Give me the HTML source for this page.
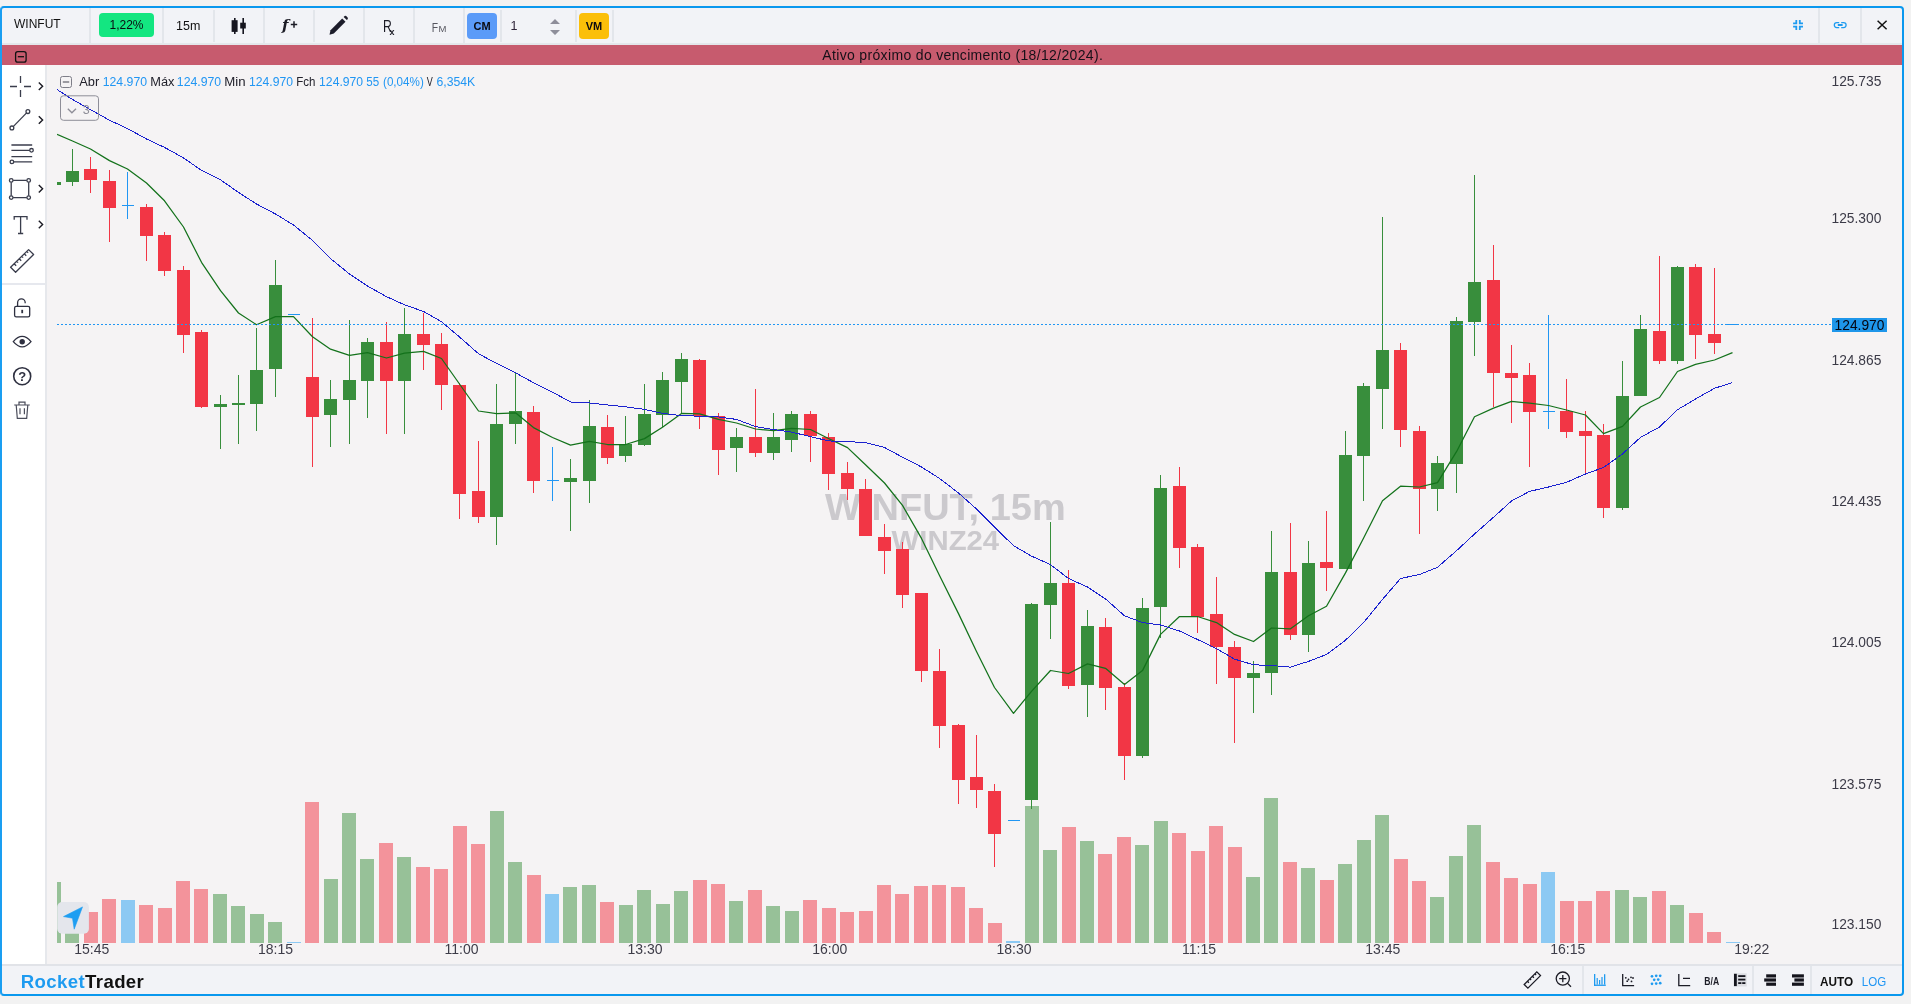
<!DOCTYPE html>
<html lang="pt-BR"><head><meta charset="utf-8"><title>WINFUT 15m - RocketTrader</title>
<style>
*{box-sizing:border-box}
html,body{margin:0;padding:0;width:1911px;height:1004px;overflow:hidden;background:#f2f2f2;font-family:"Liberation Sans",Arial,sans-serif;color:#15151d}
.a{position:absolute}
#frame{left:0;top:6px;width:1904px;height:990px;border:2px solid #0a98ee;border-left-color:#1a9ef1;border-radius:4px;z-index:50;pointer-events:none}
#tb{left:2px;top:8px;width:1900px;height:37px;background:#f2f3f7;border-bottom:2px solid #e4e7eb}
.sep{position:absolute;top:10px;width:2px;height:32px;background:#e3e6eb}
.fsep{position:absolute;top:966px;width:2px;height:28px;background:#e3e6eb}
#banner{left:2px;top:45px;width:1900px;height:20px;background:#c75b6e}
#lt{left:2px;top:65px;width:43px;height:899px;background:#fff}
#ltb{left:45px;top:65px;width:2px;height:899px;background:#e6e8ec}
#chart{left:47px;top:65px;width:1855px;height:899px;background:#f5f3f4}
#foot{left:2px;top:964px;width:1900px;height:30px;background:#f2f3f7;border-top:2px solid #e1e3e8}
.t{position:absolute;white-space:nowrap;line-height:1}
.badge{position:absolute;border-radius:4px;text-align:center;color:#0b0b10}
svg{position:absolute;overflow:visible}
</style></head><body style="will-change:transform">
<div class="a" id="tb"></div>
<div class="a" id="banner"></div>
<div class="a" id="lt"></div>
<div class="a" id="ltb"></div>
<div class="a" id="chart"></div>
<div class="a" id="foot"></div>

<!-- toolbar separators -->
<div class="sep" style="left:89px;top:8px;height:35px"></div>
<div class="sep" style="left:162px;top:8px;height:35px"></div>
<div class="sep" style="left:213px"></div>
<div class="sep" style="left:263px;top:8px;height:35px"></div>
<div class="sep" style="left:313px"></div>
<div class="sep" style="left:363px;top:8px;height:35px"></div>
<div class="sep" style="left:413px;top:8px;height:35px"></div>
<div class="sep" style="left:463px;top:8px;height:35px"></div>
<div class="sep" style="left:500px"></div>
<div class="sep" style="left:575px"></div>
<div class="sep" style="left:612px"></div>
<div class="sep" style="left:1818px;top:8px;height:35px"></div>
<div class="sep" style="left:1860px;top:8px;height:35px"></div>

<!-- toolbar content -->
<div class="t" style="left:14px;top:18px;font-size:12px;color:#111">WINFUT</div>
<div class="badge" style="left:99px;top:13px;width:55px;height:24px;background:#13e681;font-size:12px;line-height:24px">1,22%</div>
<div class="t" style="left:176px;top:20px;font-size:12.5px;color:#111">15m</div>
<svg style="left:0;top:0" width="1911" height="45" viewBox="0 0 1911 45">
  <!-- candles icon -->
  <rect x="234" y="18" width="1.6" height="16" fill="#15151f"/>
  <rect x="231.6" y="20.2" width="6" height="11.7" fill="#15151f"/>
  <rect x="242.4" y="18" width="1.6" height="16" fill="#15151f"/>
  <rect x="240.2" y="22.7" width="5.6" height="5.8" fill="#15151f"/>
  <!-- f+ -->
  <text x="282" y="30.4" font-family="DejaVu Serif" font-style="italic" font-weight="bold" font-size="15" fill="#1c1c26">f</text>
  <path d="M294 21.2v6.6 M290.8 24.5h6.4" stroke="#1c1c26" stroke-width="1.5"/>
  <!-- pencil -->
  <g transform="translate(-1 1)"><path d="M330.5 33.8 L331.5 29.2 L343.2 17.5 L346.5 20.8 L334.8 32.5 Z" fill="#1c1c2a"/>
  <path d="M344.6 16.1 L345.6 15.1 Q346.4 14.4 347.2 15.1 L348.6 16.6 Q349.3 17.4 348.6 18.2 L347.8 19.1 Z" fill="#1c1c2a"/></g>
  <!-- Rx -->
  <text x="383" y="32.3" font-size="17" fill="#1c1c26" transform="translate(383 0) scale(0.72 1) translate(-383 0)">R</text>
  <text x="389.5" y="35" font-size="9" font-weight="bold" fill="#1c1c26">x</text>
  <!-- Fm -->
  <text x="431.8" y="32" font-size="13.2" fill="#56565f" transform="translate(431.8 0) scale(0.78 1) translate(-431.8 0)">F</text>
  <text x="438.6" y="32" font-size="9.5" fill="#56565f">M</text>
  <!-- spinner -->
  <path d="M550 23.9 L555 18.9 L560 23.9 Z M550 29.9 L555 35 L560 29.9 Z" fill="#8e8e9a"/>
  <!-- compress icon -->
  <path d="M1796.3 20.1v3.3h-3.2 M1799.8 20.1v3.3h3.2 M1796.3 29.9v-3.3h-3.2 M1799.8 29.9v-3.3h3.2" stroke="#1e9bf0" stroke-width="1.8" fill="none"/>
  <!-- link icon -->
  <path d="M1839.2 22.5h-2.4a2.5 2.5 0 0 0 0 5h2.4 M1841.2 22.5h2.4a2.5 2.5 0 0 1 0 5h-2.4" stroke="#1e9bf0" stroke-width="1.25" fill="none"/><path d="M1837.8 25h4.8" stroke="#1e9bf0" stroke-width="2"/>
  <!-- close -->
  <path d="M1877.6 20.8 L1886.6 29.2 M1886.6 20.8 L1877.6 29.2" stroke="#111" stroke-width="1.5"/>
</svg>
<div class="badge" style="left:467px;top:13px;width:30px;height:26px;background:#5b9bf8;font-size:11px;font-weight:bold;line-height:26px">CM</div>
<div class="t" style="left:510.5px;top:19.5px;font-size:12.5px;color:#2e2438">1</div>
<div class="badge" style="left:579px;top:13px;width:30px;height:26px;background:#fbbf09;font-size:11px;font-weight:bold;line-height:26px">VM</div>

<!-- banner -->
<svg style="left:0;top:0" width="30" height="70">
  <rect x="15.6" y="51.6" width="10.5" height="10.6" rx="2.2" fill="none" stroke="#111" stroke-width="1.3"/>
  <path d="M17.8 56.7h6.2" stroke="#111" stroke-width="1.3"/>
</svg>
<svg style="left:0;top:0" width="1911" height="70"><text x="822.3" y="60.1" font-size="14" letter-spacing="0.34" fill="#161018">Ativo próximo do vencimento (18/12/2024).</text></svg>

<!-- left toolbar icons -->
<svg style="left:0;top:60px" width="47" height="370" viewBox="0 60 47 370">
  <g stroke="#3a3d4c" stroke-width="1.3" fill="none">
    <path d="M20.5 76v7 M20.5 90v7 M10 86.5h7 M24 86.5h7"/>
    <path d="M13.2 126.6 L26.6 112.9"/>
    <circle cx="11.9" cy="127.9" r="1.9"/><circle cx="27.9" cy="111.6" r="1.9"/>
    <path d="M11.4 145h20.8 M11.4 150.3h18.3 M11.4 156.6h20.8 M13.8 161.9h18.4"/>
    <circle cx="31.5" cy="150.3" r="1.8"/><circle cx="11.9" cy="161.9" r="1.8"/>
    <path d="M11.2 182.3v13.4 M28.7 182.3v13.4 M13.1 180.4h13.7 M13.1 197.6h13.7"/>
    <circle cx="11.2" cy="180.4" r="1.8"/><circle cx="28.7" cy="180.4" r="1.8"/><circle cx="11.2" cy="197.6" r="1.8"/><circle cx="28.7" cy="197.6" r="1.8"/>
    <path d="M14.2 219.8v-3.2h12.8v3.2 M20.6 216.6v16.9 M18 233.5h5.2"/>
    <path d="M10.6 267.2 L28.6 249.6 L33.6 254.5 L15.6 272.2 Z M14.20 263.68l1.96 2.00 M16.72 261.22l1.33 1.36 M19.24 258.75l1.96 2.00 M21.76 256.29l1.33 1.36 M24.28 253.82l1.96 2.00 M26.80 251.36l1.33 1.36" stroke-linejoin="round"/>
  </g>
  <g stroke="#1b1b24" stroke-width="1.4" fill="none">
    <path d="M38.8 82.5 L42.6 86.2 L38.8 89.9"/>
    <path d="M38.8 116.3 L42.6 120 L38.8 123.7"/>
    <path d="M38.8 185 L42.6 188.7 L38.8 192.4"/>
    <path d="M38.8 220.8 L42.6 224.5 L38.8 228.2"/>
  </g>
  <rect x="2" y="283" width="43" height="2" fill="#e6e8ee"/>
  <g stroke="#2e3040" stroke-width="1.3" fill="none">
    <rect x="14.6" y="306.3" width="15.1" height="10.6" rx="1.6"/>
    <path d="M17.6 306.3v-3.6a3.8 3.8 0 0 1 7.6 0v0.6"/>
    <path d="M13.3 341.7 Q22.2 331.2 31 341.7 Q22.2 352.2 13.3 341.7 Z"/>
    <circle cx="22.2" cy="376.2" r="8.5" stroke-width="1.6"/>
    <path d="M14.2 405h15.6 M19 404.8v-2.6h6v2.6 M16.2 405l1.1 13.4h9.4l1.1-13.4 M20 408.3v6 M24.4 408.3v6" stroke="#4b4d5b" stroke-width="1.2"/>
  </g>
  <rect x="21.3" y="309.8" width="1.8" height="3.4" fill="#2e3040"/>
  <circle cx="22.2" cy="341.7" r="2.7" fill="#2e3040"/>
  <text x="22.2" y="381" font-size="13" font-weight="bold" fill="#2e3040" text-anchor="middle">?</text>
</svg>

<!-- chart svg -->
<svg style="left:0;top:0" width="1911" height="1004" viewBox="0 0 1911 1004" font-family="Liberation Sans, Arial, sans-serif">
  <defs><clipPath id="cp"><rect x="57" y="65" width="1845" height="878"/></clipPath></defs>
  <g fill="#cbc9cd" font-weight="bold">
    <text x="825.1" y="520.3" font-size="36.6" textLength="240.6" lengthAdjust="spacingAndGlyphs">WINFUT, 15m</text>
    <text x="891.6" y="549.7" font-size="27.2" textLength="107.6" lengthAdjust="spacingAndGlyphs">WINZ24</text>
  </g>
  <g clip-path="url(#cp)">
    <g shape-rendering="crispEdges">
<rect x="47" y="881.9" width="14" height="61.1" fill="#97c198"/>
<rect x="65" y="905" width="14" height="38" fill="#97c198"/>
<rect x="84" y="911.9" width="14" height="31.1" fill="#f3939b"/>
<rect x="102" y="898.9" width="14" height="44.1" fill="#f3939b"/>
<rect x="121" y="900" width="14" height="43" fill="#8cc9f3"/>
<rect x="139" y="904.8" width="14" height="38.2" fill="#f3939b"/>
<rect x="158" y="907.8" width="14" height="35.2" fill="#f3939b"/>
<rect x="176" y="880.9" width="14" height="62.1" fill="#f3939b"/>
<rect x="194" y="888.9" width="14" height="54.1" fill="#f3939b"/>
<rect x="213" y="894" width="14" height="49" fill="#97c198"/>
<rect x="231" y="906" width="14" height="37" fill="#97c198"/>
<rect x="250" y="913.9" width="14" height="29.1" fill="#97c198"/>
<rect x="268" y="921.7" width="14" height="21.3" fill="#97c198"/>
<rect x="287" y="941.5" width="14" height="1.5" fill="#8cc9f3"/>
<rect x="305" y="801.9" width="14" height="141.1" fill="#f3939b"/>
<rect x="324" y="878.9" width="14" height="64.1" fill="#97c198"/>
<rect x="342" y="812.9" width="14" height="130.1" fill="#97c198"/>
<rect x="360" y="858.9" width="14" height="84.1" fill="#97c198"/>
<rect x="379" y="843" width="14" height="100" fill="#f3939b"/>
<rect x="397" y="857" width="14" height="86" fill="#97c198"/>
<rect x="416" y="867" width="14" height="76" fill="#f3939b"/>
<rect x="434" y="868.9" width="14" height="74.1" fill="#f3939b"/>
<rect x="453" y="825.9" width="14" height="117.1" fill="#f3939b"/>
<rect x="471" y="844" width="14" height="99" fill="#f3939b"/>
<rect x="490" y="811" width="14" height="132" fill="#97c198"/>
<rect x="508" y="862" width="14" height="81" fill="#97c198"/>
<rect x="527" y="875" width="14" height="68" fill="#f3939b"/>
<rect x="545" y="894" width="14" height="49" fill="#8cc9f3"/>
<rect x="563" y="887" width="14" height="56" fill="#97c198"/>
<rect x="582" y="885.1" width="14" height="57.9" fill="#97c198"/>
<rect x="600" y="901.9" width="14" height="41.1" fill="#f3939b"/>
<rect x="619" y="905.1" width="14" height="37.9" fill="#97c198"/>
<rect x="637" y="889.9" width="14" height="53.1" fill="#97c198"/>
<rect x="656" y="903.9" width="14" height="39.1" fill="#97c198"/>
<rect x="674" y="891.1" width="14" height="51.9" fill="#97c198"/>
<rect x="693" y="880.1" width="14" height="62.9" fill="#f3939b"/>
<rect x="711" y="884" width="14" height="59" fill="#f3939b"/>
<rect x="729" y="901.1" width="14" height="41.9" fill="#97c198"/>
<rect x="748" y="889.9" width="14" height="53.1" fill="#f3939b"/>
<rect x="766" y="906" width="14" height="37" fill="#97c198"/>
<rect x="785" y="911" width="14" height="32" fill="#97c198"/>
<rect x="803" y="900" width="14" height="43" fill="#f3939b"/>
<rect x="822" y="908" width="14" height="35" fill="#f3939b"/>
<rect x="840" y="911.9" width="14" height="31.1" fill="#f3939b"/>
<rect x="859" y="911" width="14" height="32" fill="#f3939b"/>
<rect x="877" y="885.1" width="14" height="57.9" fill="#f3939b"/>
<rect x="895" y="894" width="14" height="49" fill="#f3939b"/>
<rect x="914" y="886" width="14" height="57" fill="#f3939b"/>
<rect x="932" y="885.1" width="14" height="57.9" fill="#f3939b"/>
<rect x="951" y="887" width="14" height="56" fill="#f3939b"/>
<rect x="969" y="908" width="14" height="35" fill="#f3939b"/>
<rect x="988" y="922.9" width="14" height="20.1" fill="#f3939b"/>
<rect x="1006" y="941.2" width="14" height="1.8" fill="#8cc9f3"/>
<rect x="1025" y="806.1" width="14" height="136.9" fill="#97c198"/>
<rect x="1043" y="850.1" width="14" height="92.9" fill="#97c198"/>
<rect x="1062" y="826.9" width="14" height="116.1" fill="#f3939b"/>
<rect x="1080" y="841" width="14" height="102" fill="#97c198"/>
<rect x="1098" y="854" width="14" height="89" fill="#f3939b"/>
<rect x="1117" y="836.9" width="14" height="106.1" fill="#f3939b"/>
<rect x="1135" y="845" width="14" height="98" fill="#97c198"/>
<rect x="1154" y="821" width="14" height="122" fill="#97c198"/>
<rect x="1172" y="833.2" width="14" height="109.8" fill="#f3939b"/>
<rect x="1191" y="851" width="14" height="92" fill="#f3939b"/>
<rect x="1209" y="825.9" width="14" height="117.1" fill="#f3939b"/>
<rect x="1228" y="847" width="14" height="96" fill="#f3939b"/>
<rect x="1246" y="877" width="14" height="66" fill="#97c198"/>
<rect x="1264" y="798" width="14" height="145" fill="#97c198"/>
<rect x="1283" y="862" width="14" height="81" fill="#f3939b"/>
<rect x="1301" y="868" width="14" height="75" fill="#97c198"/>
<rect x="1320" y="880.1" width="14" height="62.9" fill="#f3939b"/>
<rect x="1338" y="864" width="14" height="79" fill="#97c198"/>
<rect x="1357" y="840.1" width="14" height="102.9" fill="#97c198"/>
<rect x="1375" y="815" width="14" height="128" fill="#97c198"/>
<rect x="1394" y="859.1" width="14" height="83.9" fill="#f3939b"/>
<rect x="1412" y="881.1" width="14" height="61.9" fill="#f3939b"/>
<rect x="1430" y="897" width="14" height="46" fill="#97c198"/>
<rect x="1449" y="856" width="14" height="87" fill="#97c198"/>
<rect x="1467" y="825" width="14" height="118" fill="#97c198"/>
<rect x="1486" y="862" width="14" height="81" fill="#f3939b"/>
<rect x="1504" y="878" width="14" height="65" fill="#f3939b"/>
<rect x="1523" y="884" width="14" height="59" fill="#f3939b"/>
<rect x="1541" y="872.1" width="14" height="70.9" fill="#8cc9f3"/>
<rect x="1560" y="901.1" width="14" height="41.9" fill="#f3939b"/>
<rect x="1578" y="901.1" width="14" height="41.9" fill="#f3939b"/>
<rect x="1596" y="891.1" width="14" height="51.9" fill="#f3939b"/>
<rect x="1615" y="890" width="14" height="53" fill="#97c198"/>
<rect x="1633" y="897" width="14" height="46" fill="#97c198"/>
<rect x="1652" y="891.1" width="14" height="51.9" fill="#f3939b"/>
<rect x="1670" y="905" width="14" height="38" fill="#97c198"/>
<rect x="1689" y="912.9" width="14" height="30.1" fill="#f3939b"/>
<rect x="1707" y="931.9" width="14" height="11.1" fill="#f3939b"/>
<rect x="1726" y="941.5" width="14" height="1.5" fill="#8cc9f3"/>
<rect x="54" y="182.3" width="1" height="2.6" fill="#388e3c"/>
<rect x="72" y="149" width="1" height="36.7" fill="#388e3c"/>
<rect x="90" y="156.8" width="1" height="36.2" fill="#f23645"/>
<rect x="109" y="170" width="1" height="72" fill="#f23645"/>
<rect x="127" y="171.9" width="1" height="47.1" fill="#2196f3"/>
<rect x="146" y="203.9" width="1" height="56.9" fill="#f23645"/>
<rect x="164" y="231.7" width="1" height="44.3" fill="#f23645"/>
<rect x="183" y="266.1" width="1" height="87.3" fill="#f23645"/>
<rect x="201" y="330" width="1" height="77.8" fill="#f23645"/>
<rect x="220" y="395.3" width="1" height="53.5" fill="#388e3c"/>
<rect x="238" y="375.2" width="1" height="68.8" fill="#388e3c"/>
<rect x="256" y="327.8" width="1" height="103.2" fill="#388e3c"/>
<rect x="275" y="260" width="1" height="136.7" fill="#388e3c"/>
<rect x="312" y="318" width="1" height="149" fill="#f23645"/>
<rect x="330" y="380" width="1" height="66.9" fill="#388e3c"/>
<rect x="349" y="320.2" width="1" height="123.4" fill="#388e3c"/>
<rect x="367" y="337.8" width="1" height="79.9" fill="#388e3c"/>
<rect x="386" y="321.7" width="1" height="112.1" fill="#f23645"/>
<rect x="404" y="307.5" width="1" height="126.3" fill="#388e3c"/>
<rect x="423" y="312.8" width="1" height="57" fill="#f23645"/>
<rect x="441" y="332.5" width="1" height="77.1" fill="#f23645"/>
<rect x="459" y="382.7" width="1" height="135.8" fill="#f23645"/>
<rect x="478" y="441" width="1" height="82.3" fill="#f23645"/>
<rect x="496" y="384" width="1" height="161.4" fill="#388e3c"/>
<rect x="515" y="372" width="1" height="71.8" fill="#388e3c"/>
<rect x="533" y="405.7" width="1" height="87.2" fill="#f23645"/>
<rect x="552" y="446.9" width="1" height="54.1" fill="#2196f3"/>
<rect x="570" y="459" width="1" height="71.6" fill="#388e3c"/>
<rect x="589" y="399.8" width="1" height="103" fill="#388e3c"/>
<rect x="607" y="414.9" width="1" height="48.9" fill="#f23645"/>
<rect x="625" y="416" width="1" height="46" fill="#388e3c"/>
<rect x="644" y="383.8" width="1" height="62" fill="#388e3c"/>
<rect x="662" y="372.2" width="1" height="54.3" fill="#388e3c"/>
<rect x="681" y="353.1" width="1" height="60.3" fill="#388e3c"/>
<rect x="699" y="359.3" width="1" height="69.4" fill="#f23645"/>
<rect x="718" y="413" width="1" height="61.9" fill="#f23645"/>
<rect x="736" y="427.8" width="1" height="44.2" fill="#388e3c"/>
<rect x="755" y="388.8" width="1" height="68.1" fill="#f23645"/>
<rect x="773" y="412.7" width="1" height="47.3" fill="#388e3c"/>
<rect x="791" y="410.6" width="1" height="41.1" fill="#388e3c"/>
<rect x="810" y="410.6" width="1" height="51.4" fill="#f23645"/>
<rect x="828" y="432.6" width="1" height="57.3" fill="#f23645"/>
<rect x="847" y="462" width="1" height="37.5" fill="#f23645"/>
<rect x="865" y="478.7" width="1" height="57.1" fill="#f23645"/>
<rect x="884" y="524" width="1" height="49.7" fill="#f23645"/>
<rect x="902" y="541.7" width="1" height="66.3" fill="#f23645"/>
<rect x="921" y="592.8" width="1" height="89" fill="#f23645"/>
<rect x="939" y="648.9" width="1" height="99.2" fill="#f23645"/>
<rect x="958" y="723.5" width="1" height="80.3" fill="#f23645"/>
<rect x="976" y="734.8" width="1" height="72.8" fill="#f23645"/>
<rect x="994" y="784" width="1" height="82.8" fill="#f23645"/>
<rect x="1031" y="603" width="1" height="205.8" fill="#388e3c"/>
<rect x="1050" y="521.5" width="1" height="117.5" fill="#388e3c"/>
<rect x="1068" y="570" width="1" height="118.6" fill="#f23645"/>
<rect x="1087" y="610" width="1" height="107.3" fill="#388e3c"/>
<rect x="1105" y="618.2" width="1" height="91.4" fill="#f23645"/>
<rect x="1124" y="682.8" width="1" height="97.2" fill="#f23645"/>
<rect x="1142" y="597.9" width="1" height="160.1" fill="#388e3c"/>
<rect x="1160" y="474.7" width="1" height="163.1" fill="#388e3c"/>
<rect x="1179" y="466.9" width="1" height="101.5" fill="#f23645"/>
<rect x="1197" y="544" width="1" height="88.7" fill="#f23645"/>
<rect x="1216" y="576.9" width="1" height="106.6" fill="#f23645"/>
<rect x="1234" y="641.2" width="1" height="101.5" fill="#f23645"/>
<rect x="1253" y="660.7" width="1" height="51.9" fill="#388e3c"/>
<rect x="1271" y="530.8" width="1" height="163.7" fill="#388e3c"/>
<rect x="1290" y="522.7" width="1" height="117.5" fill="#f23645"/>
<rect x="1308" y="541" width="1" height="111.4" fill="#388e3c"/>
<rect x="1326" y="510.8" width="1" height="80.4" fill="#f23645"/>
<rect x="1345" y="431.2" width="1" height="137.6" fill="#388e3c"/>
<rect x="1363" y="383" width="1" height="117.6" fill="#388e3c"/>
<rect x="1382" y="216.8" width="1" height="212.1" fill="#388e3c"/>
<rect x="1400" y="343" width="1" height="103.5" fill="#f23645"/>
<rect x="1419" y="426" width="1" height="107.6" fill="#f23645"/>
<rect x="1437" y="456" width="1" height="54.8" fill="#388e3c"/>
<rect x="1456" y="317.2" width="1" height="175.4" fill="#388e3c"/>
<rect x="1474" y="175.2" width="1" height="180.6" fill="#388e3c"/>
<rect x="1493" y="245.2" width="1" height="161.8" fill="#f23645"/>
<rect x="1511" y="344.5" width="1" height="78" fill="#f23645"/>
<rect x="1529" y="362.7" width="1" height="104.1" fill="#f23645"/>
<rect x="1548" y="315.3" width="1" height="113.6" fill="#2196f3"/>
<rect x="1566" y="378.9" width="1" height="59.5" fill="#f23645"/>
<rect x="1585" y="410.5" width="1" height="63" fill="#f23645"/>
<rect x="1603" y="424" width="1" height="94" fill="#f23645"/>
<rect x="1622" y="361.4" width="1" height="148.6" fill="#388e3c"/>
<rect x="1640" y="315" width="1" height="81" fill="#388e3c"/>
<rect x="1659" y="256" width="1" height="107.7" fill="#f23645"/>
<rect x="1677" y="266" width="1" height="97.7" fill="#388e3c"/>
<rect x="1695" y="264" width="1" height="94.5" fill="#f23645"/>
<rect x="1714" y="268" width="1" height="85.6" fill="#f23645"/>
<rect x="48" y="182.3" width="13" height="2.6" fill="#388e3c"/>
<rect x="66" y="171" width="13" height="11" fill="#388e3c"/>
<rect x="84" y="169" width="13" height="10.8" fill="#f23645"/>
<rect x="103" y="180.9" width="13" height="27.1" fill="#f23645"/>
<rect x="122" y="205" width="12" height="1" fill="#2196f3"/>
<rect x="140" y="207" width="13" height="28.9" fill="#f23645"/>
<rect x="158" y="234.9" width="13" height="35.8" fill="#f23645"/>
<rect x="177" y="270.3" width="13" height="64.4" fill="#f23645"/>
<rect x="195" y="331.9" width="13" height="75.1" fill="#f23645"/>
<rect x="214" y="404.2" width="13" height="2.8" fill="#388e3c"/>
<rect x="232" y="403" width="13" height="2" fill="#388e3c"/>
<rect x="250" y="369.6" width="13" height="34.6" fill="#388e3c"/>
<rect x="269" y="285" width="13" height="83.8" fill="#388e3c"/>
<rect x="288" y="314" width="12" height="1" fill="#2196f3"/>
<rect x="306" y="376.6" width="13" height="40.1" fill="#f23645"/>
<rect x="324" y="398.9" width="13" height="15.9" fill="#388e3c"/>
<rect x="343" y="380" width="13" height="19.5" fill="#388e3c"/>
<rect x="361" y="341.9" width="13" height="39" fill="#388e3c"/>
<rect x="380" y="341.9" width="13" height="39" fill="#f23645"/>
<rect x="398" y="333.8" width="13" height="47.1" fill="#388e3c"/>
<rect x="417" y="333.8" width="13" height="10.8" fill="#f23645"/>
<rect x="435" y="343.8" width="13" height="41.6" fill="#f23645"/>
<rect x="453" y="384.6" width="13" height="108.9" fill="#f23645"/>
<rect x="472" y="490.8" width="13" height="25.8" fill="#f23645"/>
<rect x="490" y="423.6" width="13" height="93" fill="#388e3c"/>
<rect x="509" y="411" width="13" height="13.4" fill="#388e3c"/>
<rect x="527" y="411.9" width="13" height="68.7" fill="#f23645"/>
<rect x="547" y="480" width="12" height="1" fill="#2196f3"/>
<rect x="564" y="478" width="13" height="3.7" fill="#388e3c"/>
<rect x="583" y="426.1" width="13" height="54.5" fill="#388e3c"/>
<rect x="601" y="427" width="13" height="30.6" fill="#f23645"/>
<rect x="619" y="443.6" width="13" height="12.1" fill="#388e3c"/>
<rect x="638" y="414" width="13" height="30.7" fill="#388e3c"/>
<rect x="656" y="380" width="13" height="34.5" fill="#388e3c"/>
<rect x="675" y="359" width="13" height="22.6" fill="#388e3c"/>
<rect x="693" y="360.2" width="13" height="55.8" fill="#f23645"/>
<rect x="712" y="415.8" width="13" height="34" fill="#f23645"/>
<rect x="730" y="436.9" width="13" height="10.7" fill="#388e3c"/>
<rect x="749" y="436.9" width="13" height="16" fill="#f23645"/>
<rect x="767" y="436.9" width="13" height="16" fill="#388e3c"/>
<rect x="785" y="413.9" width="13" height="25.8" fill="#388e3c"/>
<rect x="804" y="413.9" width="13" height="21.8" fill="#f23645"/>
<rect x="822" y="436.9" width="13" height="36.8" fill="#f23645"/>
<rect x="841" y="472.7" width="13" height="16" fill="#f23645"/>
<rect x="859" y="488.7" width="13" height="47.1" fill="#f23645"/>
<rect x="878" y="536.5" width="13" height="14.3" fill="#f23645"/>
<rect x="896" y="548.5" width="13" height="46.2" fill="#f23645"/>
<rect x="915" y="592.8" width="13" height="78.4" fill="#f23645"/>
<rect x="933" y="670.5" width="13" height="55.6" fill="#f23645"/>
<rect x="952" y="725.4" width="13" height="54.9" fill="#f23645"/>
<rect x="970" y="777.3" width="13" height="12.5" fill="#f23645"/>
<rect x="988" y="790.9" width="13" height="43" fill="#f23645"/>
<rect x="1008" y="820" width="12" height="1" fill="#2196f3"/>
<rect x="1025" y="604.2" width="13" height="195.6" fill="#388e3c"/>
<rect x="1044" y="583.3" width="13" height="21.6" fill="#388e3c"/>
<rect x="1062" y="583.2" width="13" height="102.6" fill="#f23645"/>
<rect x="1081" y="626" width="13" height="59.2" fill="#388e3c"/>
<rect x="1099" y="626.6" width="13" height="61" fill="#f23645"/>
<rect x="1118" y="686.9" width="13" height="69.4" fill="#f23645"/>
<rect x="1136" y="608" width="13" height="148.3" fill="#388e3c"/>
<rect x="1154" y="487.9" width="13" height="118.8" fill="#388e3c"/>
<rect x="1173" y="485.5" width="13" height="62" fill="#f23645"/>
<rect x="1191" y="547.1" width="13" height="69.4" fill="#f23645"/>
<rect x="1210" y="614.1" width="13" height="33.2" fill="#f23645"/>
<rect x="1228" y="647" width="13" height="31.4" fill="#f23645"/>
<rect x="1247" y="672.7" width="13" height="4.9" fill="#388e3c"/>
<rect x="1265" y="571.6" width="13" height="101.3" fill="#388e3c"/>
<rect x="1284" y="571.6" width="13" height="62.9" fill="#f23645"/>
<rect x="1302" y="562.7" width="13" height="71.8" fill="#388e3c"/>
<rect x="1320" y="561.8" width="13" height="5.8" fill="#f23645"/>
<rect x="1339" y="454.9" width="13" height="113.9" fill="#388e3c"/>
<rect x="1357" y="385.9" width="13" height="69.8" fill="#388e3c"/>
<rect x="1376" y="350.2" width="13" height="38.6" fill="#388e3c"/>
<rect x="1394" y="350.2" width="13" height="79.3" fill="#f23645"/>
<rect x="1413" y="430.8" width="13" height="58.6" fill="#f23645"/>
<rect x="1431" y="463" width="13" height="26.4" fill="#388e3c"/>
<rect x="1450" y="321" width="13" height="142.8" fill="#388e3c"/>
<rect x="1468" y="282" width="13" height="39.7" fill="#388e3c"/>
<rect x="1487" y="280" width="13" height="92.9" fill="#f23645"/>
<rect x="1505" y="372.9" width="13" height="4.9" fill="#f23645"/>
<rect x="1523" y="375.2" width="13" height="36.7" fill="#f23645"/>
<rect x="1543" y="411" width="12" height="1" fill="#2196f3"/>
<rect x="1560" y="410.8" width="13" height="21.2" fill="#f23645"/>
<rect x="1579" y="430.8" width="13" height="5.2" fill="#f23645"/>
<rect x="1597" y="435" width="13" height="73" fill="#f23645"/>
<rect x="1616" y="396" width="13" height="112" fill="#388e3c"/>
<rect x="1634" y="329" width="13" height="67" fill="#388e3c"/>
<rect x="1653" y="331" width="13" height="29.8" fill="#f23645"/>
<rect x="1671" y="266.9" width="13" height="93.9" fill="#388e3c"/>
<rect x="1689" y="266.9" width="13" height="67.9" fill="#f23645"/>
<rect x="1708" y="334" width="13" height="8.6" fill="#f23645"/>
<rect x="1727" y="324" width="12" height="1" fill="#2196f3"/>
    </g>
    <polyline points="57,134.4 72.5,141 90.5,149 109.5,160.6 127.5,169 146.5,183 164.5,200.8 183.5,227 201.5,262.3 220.5,290.7 238.5,313 256.5,324.7 275.5,316.6 293.5,316.6 312.5,336.7 330.5,349.2 349.5,355.4 367.5,352.6 386.5,358 404.5,353.2 423.5,351.3 441.5,358.5 459.5,384 478.5,411 496.5,413.7 515.5,412.8 533.5,427.6 552.5,437.5 570.5,445.1 589.5,441.4 607.5,444.5 625.5,444.5 644.5,438.6 662.5,427.2 681.5,413.4 699.5,413.8 718.5,419.4 736.5,423 755.5,429 773.5,430.7 791.5,428.3 810.5,429.5 828.5,438.5 847.5,447.6 865.5,464.8 884.5,483 902.5,505.4 921.5,538.4 939.5,575.6 958.5,613.6 976.5,651.5 994.5,687.5 1013.5,713.3 1031.5,691.3 1050.5,670.5 1068.5,673.5 1087.5,663.9 1105.5,668.3 1124.5,684.5 1142.5,670.6 1160.5,634.4 1179.5,616.5 1197.5,616.5 1216.5,622.6 1234.5,634.4 1253.5,641.5 1271.5,628 1290.5,628.8 1308.5,615.7 1326.5,606.3 1345.5,572.9 1363.5,538.2 1382.5,500.7 1400.5,486.2 1419.5,487 1437.5,482.7 1456.5,451.7 1474.5,416.8 1493.5,408.1 1511.5,401.3 1529.5,403.2 1548.5,405.5 1566.5,410 1585.5,415 1603.5,433.6 1622.5,426.4 1640.5,407 1659.5,397.5 1677.5,371.5 1695.5,364.3 1714.5,360 1732.5,352.7" fill="none" stroke="#13721b" stroke-width="1.25" stroke-linejoin="round"/>
    <polyline points="57,89.5 72.5,99.5 90.5,109.7 109.5,120.2 127.5,128.6 146.5,139 164.5,147.4 183.5,157.9 201.5,170.4 220.5,179.8 238.5,192.4 256.5,204 275.5,214 293.5,225 312.5,240.4 330.5,258.6 349.5,274 367.5,286 386.5,296.7 404.5,304.8 423.5,311.5 441.5,321.7 459.5,337 478.5,353.7 496.5,363.4 515.5,372.8 533.5,382.7 552.5,392.1 570.5,402 589.5,402.9 607.5,405 625.5,406.8 644.5,409.4 662.5,413.4 681.5,415.6 699.5,416.2 718.5,417 736.5,419.4 755.5,426.6 773.5,429.5 791.5,432.1 810.5,436.6 828.5,440.9 847.5,441.6 865.5,442.6 884.5,447.5 902.5,457.2 921.5,467 939.5,478.4 958.5,493 976.5,509 994.5,527 1013.5,545.7 1031.5,556.1 1050.5,564.6 1068.5,578.5 1087.5,587 1105.5,598.9 1124.5,615.8 1142.5,622.6 1160.5,625 1179.5,631 1197.5,639.5 1216.5,648.6 1234.5,659.1 1253.5,664.8 1271.5,665.5 1290.5,667.1 1308.5,661.4 1326.5,654.5 1345.5,640.2 1363.5,622.7 1382.5,599.4 1400.5,578.5 1419.5,574.5 1437.5,567.3 1456.5,550.7 1474.5,534 1493.5,517.3 1511.5,501 1529.5,491.4 1548.5,487 1566.5,482.3 1585.5,474 1603.5,467.5 1622.5,453.9 1640.5,437.4 1659.5,427 1677.5,409.7 1695.5,399 1714.5,388.3 1732.5,382.5" fill="none" stroke="#1b22cf" stroke-width="1" shape-rendering="crispEdges"/>
    <path d="M57 324.5H1832" stroke="#2196f3" stroke-width="1" stroke-dasharray="2 2"/>
  </g>
  <rect x="1832" y="318" width="55" height="14" fill="#1e96ea"/>
  <text x="1834.6" y="330" font-size="14" fill="#050510" textLength="49.8" lengthAdjust="spacingAndGlyphs">124.970</text>
  <g font-size="14" fill="#3b3a47"><text x="1831.5" y="86.1" textLength="49.8" lengthAdjust="spacingAndGlyphs">125.735</text><text x="1831.5" y="223.3" textLength="49.8" lengthAdjust="spacingAndGlyphs">125.300</text><text x="1831.5" y="365.2" textLength="49.8" lengthAdjust="spacingAndGlyphs">124.865</text><text x="1831.5" y="506" textLength="49.8" lengthAdjust="spacingAndGlyphs">124.435</text><text x="1831.5" y="647.4" textLength="49.8" lengthAdjust="spacingAndGlyphs">124.005</text><text x="1831.5" y="789.4" textLength="49.8" lengthAdjust="spacingAndGlyphs">123.575</text><text x="1831.5" y="929.4" textLength="49.8" lengthAdjust="spacingAndGlyphs">123.150</text></g>
  <g font-size="14" fill="#3d3c48"><text x="91.8" y="953.8" text-anchor="middle">15:45</text><text x="275.5" y="953.8" text-anchor="middle">18:15</text><text x="461.5" y="953.8" text-anchor="middle">11:00</text><text x="645" y="953.8" text-anchor="middle">13:30</text><text x="829.8" y="953.8" text-anchor="middle">16:00</text><text x="1014" y="953.8" text-anchor="middle">18:30</text><text x="1199" y="953.8" text-anchor="middle">11:15</text><text x="1382.7" y="953.8" text-anchor="middle">13:45</text><text x="1567.7" y="953.8" text-anchor="middle">16:15</text><text x="1751.7" y="953.8" text-anchor="middle">19:22</text></g>
  <!-- legend -->
  <rect x="60.5" y="76.5" width="11" height="11" rx="2" fill="none" stroke="#7e7e88" stroke-width="1"/>
  <path d="M62.8 82h6.4" stroke="#6b6b74" stroke-width="1.3"/>
  <g font-size="12"><text x="79.3" y="85.6" fill="#22222c" textLength="20.0" lengthAdjust="spacingAndGlyphs">Abr</text><text x="102.69999999999999" y="85.6" fill="#2196f3" textLength="44.4" lengthAdjust="spacingAndGlyphs">124.970</text><text x="150.29999999999998" y="85.6" fill="#22222c" textLength="24.2" lengthAdjust="spacingAndGlyphs">Máx</text><text x="176.79999999999998" y="85.6" fill="#2196f3" textLength="44.4" lengthAdjust="spacingAndGlyphs">124.970</text><text x="224.29999999999998" y="85.6" fill="#22222c" textLength="21.3" lengthAdjust="spacingAndGlyphs">Min</text><text x="249.0" y="85.6" fill="#2196f3" textLength="44.0" lengthAdjust="spacingAndGlyphs">124.970</text><text x="296.3" y="85.6" fill="#22222c" textLength="19.2" lengthAdjust="spacingAndGlyphs">Fch</text><text x="319.1" y="85.6" fill="#2196f3" textLength="44.0" lengthAdjust="spacingAndGlyphs">124.970</text><text x="366.3" y="85.6" fill="#2196f3" textLength="12.9" lengthAdjust="spacingAndGlyphs">55</text><text x="383.0" y="85.6" fill="#2196f3" textLength="40.8" lengthAdjust="spacingAndGlyphs">(0,04%)</text><text x="426.70000000000005" y="85.6" fill="#22222c" textLength="6.0" lengthAdjust="spacingAndGlyphs">V</text><text x="436.5" y="85.6" fill="#2196f3" textLength="38.8" lengthAdjust="spacingAndGlyphs">6,354K</text></g>
  <rect x="60.5" y="95.8" width="38" height="24.5" rx="3" fill="none" stroke="#8e8e98" stroke-width="1"/>
  <path d="M67.8 108.8 L71.9 112.8 L76 108.8" fill="none" stroke="#8e8e98" stroke-width="1.3"/>
  <text x="82.8" y="114.2" font-size="12.5" fill="#8e8e98">3</text>
  <!-- nav button -->
  <rect x="57.2" y="902" width="31.7" height="31.8" rx="5" fill="#e4e6ec"/>
  <path d="M82.5 906.9 L63.5 916.6 L72.5 918.2 L74.2 929.2 Z" fill="#1e9ef2" stroke="#1e9ef2" stroke-width="0.6" stroke-linejoin="round"/>
</svg>

<!-- footer -->
<svg style="left:0;top:960px" width="200" height="40" viewBox="0 960 200 40"><text x="20.8" y="987.7" font-size="18.6" font-weight="bold" letter-spacing="0.38"><tspan fill="#1e9bf0">Rocket</tspan><tspan fill="#111">Trader</tspan></text></svg>
<div class="fsep" style="left:1582px"></div>
<div class="fsep" style="left:1752px"></div>
<div class="fsep" style="left:1810px"></div>
<svg style="left:0;top:960px" width="1911" height="40" viewBox="0 960 1911 40">
  <g stroke="#1c1c26" stroke-width="1.3" fill="none">
    <path d="M1524.2 984.5 L1536.8 971.9 L1540.5 975.6 L1527.9 988.2 Z M1527.4 981.3l1.5 1.5 M1529.9 978.8l1.2 1.2 M1532.4 976.3l1.5 1.5 M1534.9 973.8l1.2 1.2"/>
    <circle cx="1562.8" cy="978.6" r="6.6"/>
    <path d="M1567.6 983.4 L1571 986.8 M1562.8 975v7.2 M1559.2 978.6h7.2"/>
    <path d="M1622.7 974v11.6h11.4"/>
    <path d="M1678.8 974v11.6h11.4 M1683 978.4h7"/>
  </g>
  <g fill="#1e9bf0">
    <rect x="1594" y="974" width="1.3" height="12"/><rect x="1594" y="984.6" width="11.8" height="1.3"/>
    <rect x="1596.6" y="978" width="1.2" height="6.6"/><rect x="1599" y="980" width="1.2" height="4.6"/><rect x="1601.4" y="977" width="1.2" height="7.6"/><rect x="1604" y="974.2" width="1.3" height="10.4"/>
    <circle cx="1652" cy="976.3" r="1.35"/><circle cx="1656.2" cy="975.8" r="1.35"/><circle cx="1660.2" cy="975.8" r="1.35"/>
    <circle cx="1654.2" cy="979.8" r="1.35"/><circle cx="1658.2" cy="979.6" r="1.35"/>
    <circle cx="1652" cy="983.8" r="1.35"/><circle cx="1656.2" cy="983.6" r="1.35"/><circle cx="1660.2" cy="983.2" r="1.35"/>
  </g>
  <g fill="#1c1c26">
    <circle cx="1625.8" cy="977.8" r="0.9"/><circle cx="1628.5" cy="979.5" r="0.9"/><circle cx="1631" cy="977.3" r="0.9"/><circle cx="1633" cy="978" r="0.9"/><circle cx="1627.2" cy="981.2" r="0.9"/><circle cx="1631.5" cy="981.4" r="0.9"/>
  </g>
  <text x="1704.3" y="985.2" font-size="10.5" font-weight="bold" fill="#1c1c26" transform="translate(1704.3 0) scale(0.82 1) translate(-1704.3 0)">B/A</text>
  <rect x="1733.6" y="973.3" width="13.1" height="13.2" fill="#dcdde2"/>
  <g fill="#15151d">
    <rect x="1734" y="973.8" width="2.8" height="12.3"/>
    <rect x="1738.2" y="975.2" width="7.2" height="1.8"/><rect x="1738.2" y="978.7" width="7.2" height="1.8"/><rect x="1738.2" y="982.2" width="3.2" height="1.8"/><rect x="1742.2" y="982.2" width="3.2" height="1.8"/>
    <rect x="1766.2" y="974.3" width="9.8" height="3.2"/><rect x="1764.2" y="978.4" width="11.8" height="3.2"/><rect x="1766.2" y="982.6" width="9.8" height="3.2"/>
    <rect x="1792" y="974.3" width="11.9" height="3.2"/><rect x="1794.4" y="978.4" width="9.5" height="3.2"/><rect x="1792" y="982.6" width="11.9" height="3.2"/>
  </g>
  <text x="1820" y="985.8" font-size="12" font-weight="bold" fill="#111" textLength="33.2" lengthAdjust="spacingAndGlyphs">AUTO</text>
  <text x="1861.8" y="985.8" font-size="12" fill="#2196f3" textLength="24.4" lengthAdjust="spacingAndGlyphs">LOG</text>
</svg>

<div class="a" id="frame"></div>
</body></html>
